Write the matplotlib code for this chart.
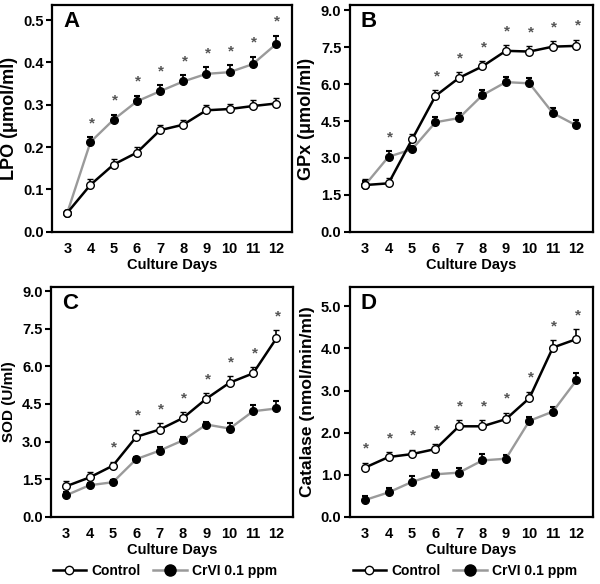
import numpy as np
import matplotlib
matplotlib.use('Agg')
import matplotlib.pyplot as plt
from matplotlib.lines import Line2D

plt.rcParams['font.family'] = ['Liberation Sans', 'DejaVu Sans']
plt.rcParams['font.weight'] = 'bold'

days = [3, 4, 5, 6, 7, 8, 9, 10, 11, 12]

# A - LPO
lpo_ctrl = [0.045, 0.111, 0.159, 0.187, 0.240, 0.253, 0.287, 0.290, 0.297, 0.303]
lpo_ctrl_err = [0.004, 0.013, 0.013, 0.013, 0.012, 0.012, 0.013, 0.013, 0.014, 0.013]
lpo_cr = [0.045, 0.212, 0.265, 0.308, 0.332, 0.355, 0.373, 0.377, 0.396, 0.443]
lpo_cr_err = [0.004, 0.011, 0.012, 0.013, 0.014, 0.015, 0.016, 0.016, 0.018, 0.020]
lpo_star = [4, 5, 6, 7, 8, 9, 10, 11, 12]

# B - GPx
gpx_ctrl = [1.90, 1.97, 3.75, 5.52, 6.25, 6.72, 7.35, 7.32, 7.52, 7.55]
gpx_ctrl_err = [0.25, 0.22, 0.22, 0.22, 0.22, 0.22, 0.22, 0.22, 0.22, 0.25]
gpx_cr = [1.90, 3.05, 3.35, 4.45, 4.62, 5.55, 6.08, 6.03, 4.82, 4.32]
gpx_cr_err = [0.15, 0.22, 0.12, 0.22, 0.22, 0.22, 0.22, 0.22, 0.22, 0.22]
gpx_star = [4, 6, 7, 8, 9, 10, 11, 12]

# C - SOD
sod_ctrl = [1.22, 1.57, 2.04, 3.19, 3.48, 3.94, 4.71, 5.35, 5.72, 7.12]
sod_ctrl_err = [0.2, 0.22, 0.15, 0.28, 0.25, 0.22, 0.22, 0.25, 0.25, 0.32]
sod_cr = [0.86, 1.26, 1.38, 2.30, 2.64, 3.05, 3.68, 3.52, 4.21, 4.32]
sod_cr_err = [0.12, 0.1, 0.1, 0.1, 0.15, 0.12, 0.12, 0.22, 0.25, 0.28]
sod_star = [5, 6, 7, 8, 9, 10, 11, 12]

# D - Catalase
cat_ctrl = [1.17, 1.42, 1.49, 1.61, 2.15, 2.15, 2.32, 2.82, 4.02, 4.22]
cat_ctrl_err = [0.12, 0.12, 0.1, 0.12, 0.15, 0.15, 0.15, 0.15, 0.18, 0.24]
cat_cr = [0.40, 0.58, 0.83, 1.01, 1.05, 1.34, 1.38, 2.28, 2.50, 3.24]
cat_cr_err = [0.1, 0.1, 0.15, 0.1, 0.1, 0.15, 0.1, 0.1, 0.1, 0.18]
cat_star = [3, 4, 5, 6, 7, 8, 9, 10, 11, 12]

panels = [
    ('A', 'LPO (μmol/ml)', lpo_ctrl, lpo_ctrl_err, lpo_cr, lpo_cr_err, lpo_star,
     [0.0, 0.1, 0.2, 0.3, 0.4, 0.5], 0.535, 13),
    ('B', 'GPx (μmol/ml)', gpx_ctrl, gpx_ctrl_err, gpx_cr, gpx_cr_err, gpx_star,
     [0.0, 1.5, 3.0, 4.5, 6.0, 7.5, 9.0], 9.2, 13),
    ('C', 'SOD (U/ml)', sod_ctrl, sod_ctrl_err, sod_cr, sod_cr_err, sod_star,
     [0.0, 1.5, 3.0, 4.5, 6.0, 7.5, 9.0], 9.15, 11),
    ('D', 'Catalase (nmol/min/ml)', cat_ctrl, cat_ctrl_err, cat_cr, cat_cr_err, cat_star,
     [0.0, 1.0, 2.0, 3.0, 4.0, 5.0], 5.45, 12.5),
]

rects = [
    [0.087, 0.603, 0.400, 0.388],
    [0.583, 0.603, 0.405, 0.388],
    [0.085, 0.115, 0.403, 0.393],
    [0.583, 0.115, 0.405, 0.393],
]

fig = plt.figure(figsize=(6, 5.84), dpi=100)
gray = '#9a9a9a'

for rect, p in zip(rects, panels):
    letter, ylab, ctrl, ctrl_err, cr, cr_err, stars, yticks, ytop, ylsize = p
    ax = fig.add_axes(rect)
    z = np.zeros(len(days))
    # CrVI: gray line, black markers
    ax.errorbar(days, cr, yerr=[z, cr_err], color=gray, lw=1.7, ecolor='black',
                elinewidth=1.2, capsize=2.5, capthick=1.5, marker='o', ms=5.5,
                mfc='black', mec='black', zorder=2)
    # Control: black line, white markers
    ax.errorbar(days, ctrl, yerr=[z, ctrl_err], color='black', lw=1.8, ecolor='black',
                elinewidth=1.2, capsize=2.5, capthick=1.5, marker='o', ms=5.5,
                mfc='white', mec='black', mew=1.0, zorder=3)
    for d in stars:
        i = days.index(d)
        top = max(ctrl[i] + ctrl_err[i], cr[i] + cr_err[i])
        ax.annotate('*', (d, top), xytext=(1, 5), textcoords='offset points',
                    ha='center', va='bottom', fontsize=11, color='#555555')
    ax.set_xlim(2.35, 12.7)
    ax.set_ylim(0, ytop)
    ax.set_xticks(days)
    ax.set_yticks(yticks)
    ax.set_yticklabels(['%.1f' % t for t in yticks])
    ax.tick_params(axis='x', length=0, pad=7, labelsize=10.5)
    ax.tick_params(axis='y', length=4, width=1.5, pad=2, labelsize=10.5)
    for s in ax.spines.values():
        s.set_linewidth(1.6)
    ax.set_xlabel('Culture Days', fontsize=10.5, fontweight='bold', labelpad=2)
    ax.set_ylabel(ylab, fontsize=ylsize, fontweight='bold', labelpad=4)
    ax.text(0.045, 0.975, letter, transform=ax.transAxes, ha='left', va='top',
            fontsize=16, fontweight='bold')

handles = [
    Line2D([], [], color='black', lw=1.8, marker='o', ms=6, mfc='white', mec='black'),
    Line2D([], [], color=gray, lw=1.8, marker='o', ms=8, mfc='black', mec='black'),
]
labels = ['Control', 'CrVI 0.1 ppm']
for cx in [0.275, 0.775]:
    fig.legend(handles, labels, loc='center', bbox_to_anchor=(cx, 0.022), ncol=2,
               frameon=False, fontsize=10, handlelength=2.4, columnspacing=0.9,
               handletextpad=0.4)

fig.savefig('out.png', dpi=100)
